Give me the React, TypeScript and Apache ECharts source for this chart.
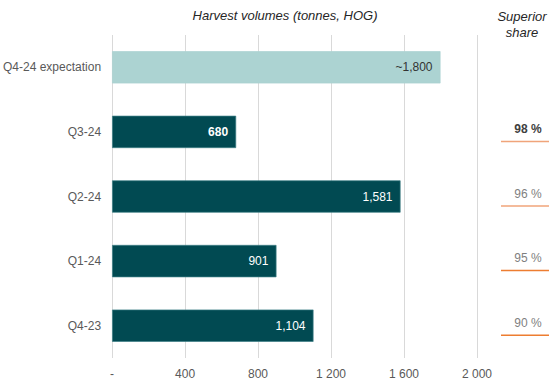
import React, { useEffect, useRef } from "react";
import * as echarts from "echarts";

const categories = ["Q4-24 expectation", "Q3-24", "Q2-24", "Q1-24", "Q4-23"];
const volumes = [1800, 680, 1581, 901, 1104];
const volumeLabels = ["~1,800", "680", "1,581", "901", "1,104"];
const superiorShare = ["", "98 %", "96 %", "95 %", "90 %"];
const xTickLabels: Record<number, string> = { 0: "-", 400: "400", 800: "800", 1200: "1 200", 1600: "1 600", 2000: "2 000" };

const FONT = "'Liberation Sans', Arial, sans-serif";

export default function App() {
  const ref = useRef<HTMLDivElement>(null);
  useEffect(() => {
    if (!ref.current) return;
    const chart = echarts.init(ref.current, undefined, { renderer: "svg" });
    const option: any = {
      animation: false,
      textStyle: { fontFamily: FONT },
      grid: { left: 111, right: 77, top: 35, bottom: 27 },
      xAxis: {
        type: "value",
        min: 0,
        max: 2000,
        interval: 400,
        axisLine: { show: false },
        axisTick: { show: false },
        splitLine: { lineStyle: { color: "#d9d9d9" } },
        axisLabel: {
          color: "#595959",
          fontSize: 12,
          margin: 10,
          fontFamily: FONT,
          formatter: (v: number) => xTickLabels[v] ?? String(v),
        },
      },
      yAxis: {
        type: "category",
        inverse: true,
        data: categories,
        axisLine: { show: false },
        axisTick: { show: false },
        axisLabel: { color: "#595959", fontSize: 12, margin: 11, fontFamily: FONT },
      },
      series: [
        {
          type: "bar",
          barWidth: "50%",
          data: volumes.map((v, i) => ({
            value: v,
            itemStyle: {
              color: i === 0 ? "#acd3d2" : "#014a52",
              borderColor: i === 0 ? "#acd3d2" : "#3f7f86",
              borderWidth: 0.7,
            },
            label: {
              show: true,
              position: "insideRight",
              distance: 8,
              formatter: volumeLabels[i],
              color: i === 0 ? "#333333" : "#ffffff",
              fontWeight: i === 1 ? "bold" : "normal",
              fontSize: 12,
              fontFamily: FONT,
            },
          })),
        },
      ],
    };
    chart.setOption(option);

    const graphics: any[] = [
      {
        type: "text",
        x: 285,
        y: 15,
        style: {
          text: "Harvest volumes (tonnes, HOG)",
          fontSize: 13,
          fontStyle: "italic",
          fill: "#262626",
          textAlign: "center",
          textVerticalAlign: "middle",
          fontFamily: FONT,
        },
      },
      {
        type: "text",
        x: 522,
        y: 24,
        style: {
          text: "Superior\nshare",
          fontSize: 13,
          lineHeight: 16,
          fontStyle: "italic",
          fill: "#262626",
          textAlign: "center",
          textVerticalAlign: "middle",
          fontFamily: FONT,
        },
      },
    ];
    categories.forEach((c, i) => {
      const share = superiorShare[i];
      if (!share) return;
      const y = chart.convertToPixel({ yAxisIndex: 0 }, c) as number;
      graphics.push({
        type: "text",
        x: 528,
        y: y - 3,
        style: {
          text: share,
          fontSize: 12,
          fontWeight: i === 1 ? "bold" : "normal",
          fill: i === 1 ? "#404040" : "#7f7f7f",
          textAlign: "center",
          textVerticalAlign: "middle",
          fontFamily: FONT,
        },
      });
      graphics.push({
        type: "line",
        shape: { x1: 501, y1: y + 9.5, x2: 549, y2: y + 9.5 },
        style: { stroke: i <= 2 ? "#f0a47a" : "#ed7d31", lineWidth: 1.5 },
      });
    });
    chart.setOption({ graphic: graphics });
    return () => chart.dispose();
  }, []);
  return (
    <div
      ref={ref}
      style={{ position: "fixed", left: 0, top: 0, width: 554, height: 385, background: "#ffffff" }}
    />
  );
}
